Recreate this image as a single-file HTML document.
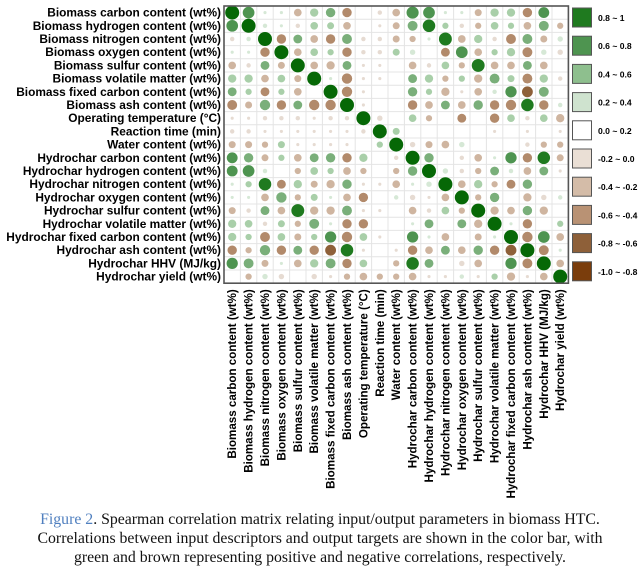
<!DOCTYPE html>
<html><head><meta charset="utf-8"><style>
body{margin:0;background:#fff;width:640px;height:565px;overflow:hidden}
svg{display:block}
.cap{position:absolute;left:0;top:510px;width:640px;text-align:center;font-family:"Liberation Serif",serif;font-size:15.8px;line-height:19px;color:#111;white-space:nowrap}
.cap .fig{color:#4f7fbf}
</style></head><body>
<svg id="chart" width="640" height="510" xmlns="http://www.w3.org/2000/svg"></svg>
<div class="cap"><span class="fig">Figure 2</span>. Spearman correlation matrix relating input/output parameters in biomass HTC.<br>Correlations between input descriptors and output targets are shown in the color bar, with<br>green and brown representing positive and negative correlations, respectively.</div>
<script>
const variables = ["Biomass carbon content (wt%)","Biomass hydrogen content (wt%)","Biomass nitrogen content (wt%)","Biomass oxygen content (wt%)","Biomass sulfur content (wt%)","Biomass volatile matter (wt%)","Biomass fixed carbon content (wt%)","Biomass ash content (wt%)","Operating temperature (°C)","Reaction time (min)","Water content (wt%)","Hydrochar carbon content (wt%)","Hydrochar hydrogen content (wt%)","Hydrochar nitrogen content (wt%)","Hydrochar oxygen content (wt%)","Hydrochar sulfur content (wt%)","Hydrochar volatile matter (wt%)","Hydrochar fixed carbon content (wt%)","Hydrochar ash content (wt%)","Hydrochar HHV (MJ/kg)","Hydrochar yield (wt%)"];
const corr = [
[1,0.7,0.05,0.05,-0.3,0.35,0.45,-0.45,0,-0.1,-0.3,0.75,0.7,0.05,0.05,-0.25,0.35,0.35,-0.45,0.6,0],
[0.7,1,0.1,0.05,-0.1,0.3,0.25,-0.3,0,-0.05,-0.25,0.5,0.8,0.2,-0.1,-0.2,0.3,0.2,-0.3,0.5,-0.2],
[-0.1,0.1,1,-0.45,0.4,-0.3,-0.45,0.5,-0.1,-0.1,-0.25,-0.2,0.05,0.85,-0.3,0.35,-0.1,-0.5,0.5,-0.25,0.15],
[0.05,0.05,-0.45,1,-0.3,0.3,0.2,-0.45,-0.1,-0.1,0.25,0.15,0,-0.4,0.7,-0.3,0.2,0.35,-0.5,0.15,-0.15],
[-0.3,-0.1,0.4,-0.25,1,-0.3,-0.35,0.4,-0.05,-0.05,0,-0.3,-0.1,0.3,-0.2,0.85,-0.3,-0.3,0.4,-0.3,0],
[0.35,0.35,-0.3,0.3,-0.25,1,0.05,-0.55,-0.05,-0.05,0,0.4,0.35,-0.2,0.2,-0.35,0.5,0.25,-0.5,0.35,-0.1],
[0.4,0.2,-0.4,0.2,-0.3,0,1,-0.55,-0.05,0,0,0.45,0.2,-0.35,-0.05,-0.3,0.1,0.65,-0.6,0.5,0],
[-0.5,-0.25,0.55,-0.45,0.4,-0.55,-0.55,1,-0.05,0,0,-0.45,-0.3,0.4,-0.3,0.45,-0.45,-0.55,0.8,-0.45,0.1],
[-0.05,-0.05,-0.1,-0.1,-0.1,-0.05,-0.1,-0.1,1,-0.15,0,0.3,-0.2,0,-0.4,0,-0.45,0.3,-0.1,0.3,-0.35],
[-0.1,-0.1,-0.05,-0.05,-0.05,-0.05,-0.05,-0.05,-0.1,1,0.25,0,0,0,0,0,-0.05,0,-0.05,0,-0.05],
[-0.25,-0.25,-0.2,0.25,-0.05,-0.05,-0.05,-0.05,0,0.2,1,-0.15,-0.25,-0.3,0.15,0,0,0,-0.1,-0.2,-0.2],
[0.6,0.45,-0.25,0.2,-0.3,0.4,0.45,-0.45,0.35,0,-0.1,1,0.45,0,-0.1,-0.3,0.05,0.65,-0.45,0.8,-0.25],
[0.6,0.7,0.1,0,-0.2,0.3,0.2,-0.3,-0.2,0,-0.2,0.45,1,0.15,-0.1,-0.2,0.4,0.1,-0.3,0.4,-0.05],
[0.05,0.2,0.8,-0.4,0.35,-0.25,-0.35,0.45,-0.05,-0.05,-0.3,0.05,0.15,1,-0.3,0.35,-0.2,-0.4,0.45,0,0],
[0.05,0.05,-0.3,0.55,-0.2,0.25,0.05,-0.3,-0.45,0,0.1,-0.15,-0.05,-0.3,1,-0.2,0.45,0,-0.35,-0.15,0.1],
[-0.25,-0.1,0.4,-0.3,0.85,-0.35,-0.35,0.5,-0.05,-0.05,0,-0.3,-0.1,0.3,-0.2,1,-0.35,-0.3,0.45,-0.35,0],
[0.35,0.3,-0.1,0.25,-0.2,0.5,0.05,-0.45,-0.45,0,0,0.05,0.4,0,0.4,-0.35,1,0.05,-0.45,0,0.2],
[0.35,0.2,-0.5,0.3,-0.25,0.2,0.65,-0.55,0.3,-0.05,0,0.65,0.05,-0.3,0,-0.25,0.05,1,-0.55,0.7,-0.3],
[-0.45,-0.2,0.55,-0.45,0.4,-0.45,-0.6,0.8,-0.05,0,-0.05,-0.45,-0.3,0.4,-0.3,0.45,-0.45,-0.6,1,-0.5,0.05],
[0.65,0.5,-0.25,0.05,-0.3,0.35,0.5,-0.45,0.3,0,-0.2,0.8,0.4,0,-0.15,-0.3,0,0.65,-0.5,1,-0.3],
[0,-0.2,0.15,-0.15,0,-0.15,-0.05,-0.2,-0.3,-0.2,-0.2,-0.3,-0.05,-0.05,0.1,-0.05,0.2,-0.35,-0.05,-0.3,1]
];
const legendLabels = ["0.8 ~ 1","0.6 ~ 0.8","0.4 ~ 0.6","0.2 ~ 0.4","0.0 ~ 0.2","-0.2 ~ 0.0","-0.4 ~ -0.2","-0.6 ~ -0.4","-0.8 ~ -0.6","-1.0 ~ -0.8"];
const legendColors = ["#1f7a1f","#4e9450","#8ebf8e","#cfe3cf","#ffffff","#eadfd5","#d4bca8","#b99274","#8e6039","#7a3d0c"];

const NS="http://www.w3.org/2000/svg";
const svg=document.getElementById('chart');
const x0=224, y0=6, cw=16.4, ch=13.2, n=variables.length;
const xPos=i=>x0+cw*(i+0.5);
const yPos=i=>y0+ch*(i+0.5);
const rScale=v=>7*Math.sqrt(Math.abs(v));
function colorFor(v){
  if(v>=0.95) return "#066806";
  if(v>=0.8) return "#1f7a1f";
  if(v>=0.6) return "#4e9450";
  if(v>=0.4) return "#7aaf7a";
  if(v>=0.2) return "#a9cfa9";
  if(v>=0) return "#d6e8d6";
  if(v>-0.2) return "#e6dbd2";
  if(v>-0.4) return "#cfb5a0";
  if(v>-0.6) return "#b28a6b";
  if(v>-0.8) return "#8e6039";
  return "#7a3d0c";
}
function mk(tag,attrs){const e=document.createElementNS(NS,tag);for(const k in attrs)e.setAttribute(k,attrs[k]);svg.appendChild(e);return e;}
for(let i=0;i<=n;i++){
  const gv=mk('line',{x1:x0+cw*i,x2:x0+cw*i,y1:y0,y2:y0+ch*n,stroke:'#e4e4e4','stroke-width':1});
  
  
  const gh=mk('line',{x1:x0,x2:x0+cw*n,y1:y0+ch*i,y2:y0+ch*i,stroke:'#e4e4e4','stroke-width':1});
  
  
}
for(let r=0;r<n;r++){for(let c=0;c<n;c++){
  const v=corr[r][c]; if(Math.abs(v)<0.01) continue;
  const ci=mk('circle',{cx:xPos(c),cy:yPos(r),r:rScale(v),fill:colorFor(v)});
  
  
}}
const fr=mk('rect',{x:x0,y:y0,width:cw*n,height:ch*n,fill:'none',stroke:'#555','stroke-width':1.6});


variables.forEach((t,i)=>{
  const rl=mk('text',{x:x0-3,y:yPos(i)+4,'text-anchor':'end','font-family':'Liberation Sans, sans-serif','font-size':'11.9','font-weight':'bold',fill:'#000'});
  rl.textContent=t;
  
  
  const cx=xPos(i)+4, cy=y0+ch*n+6;
  const cl=mk('text',{x:cx,y:cy,'text-anchor':'end',transform:`rotate(-90 ${cx} ${cy})`,'font-family':'Liberation Sans, sans-serif','font-size':'11.6','font-weight':'bold',fill:'#000'});
  cl.textContent=t;
  
  
});
legendLabels.forEach((t,i)=>{
  const y=8+i*28.2;
  const b=mk('rect',{x:572.5,y:y,width:19,height:19,fill:legendColors[i],stroke:'#555','stroke-width':1});
  
  
  const lt=mk('text',{x:598,y:y+13,'font-family':'Liberation Sans, sans-serif','font-size':'8.6','font-weight':'bold',fill:'#000'});
  lt.textContent=t;
  
  
});
</script>
</body></html>
